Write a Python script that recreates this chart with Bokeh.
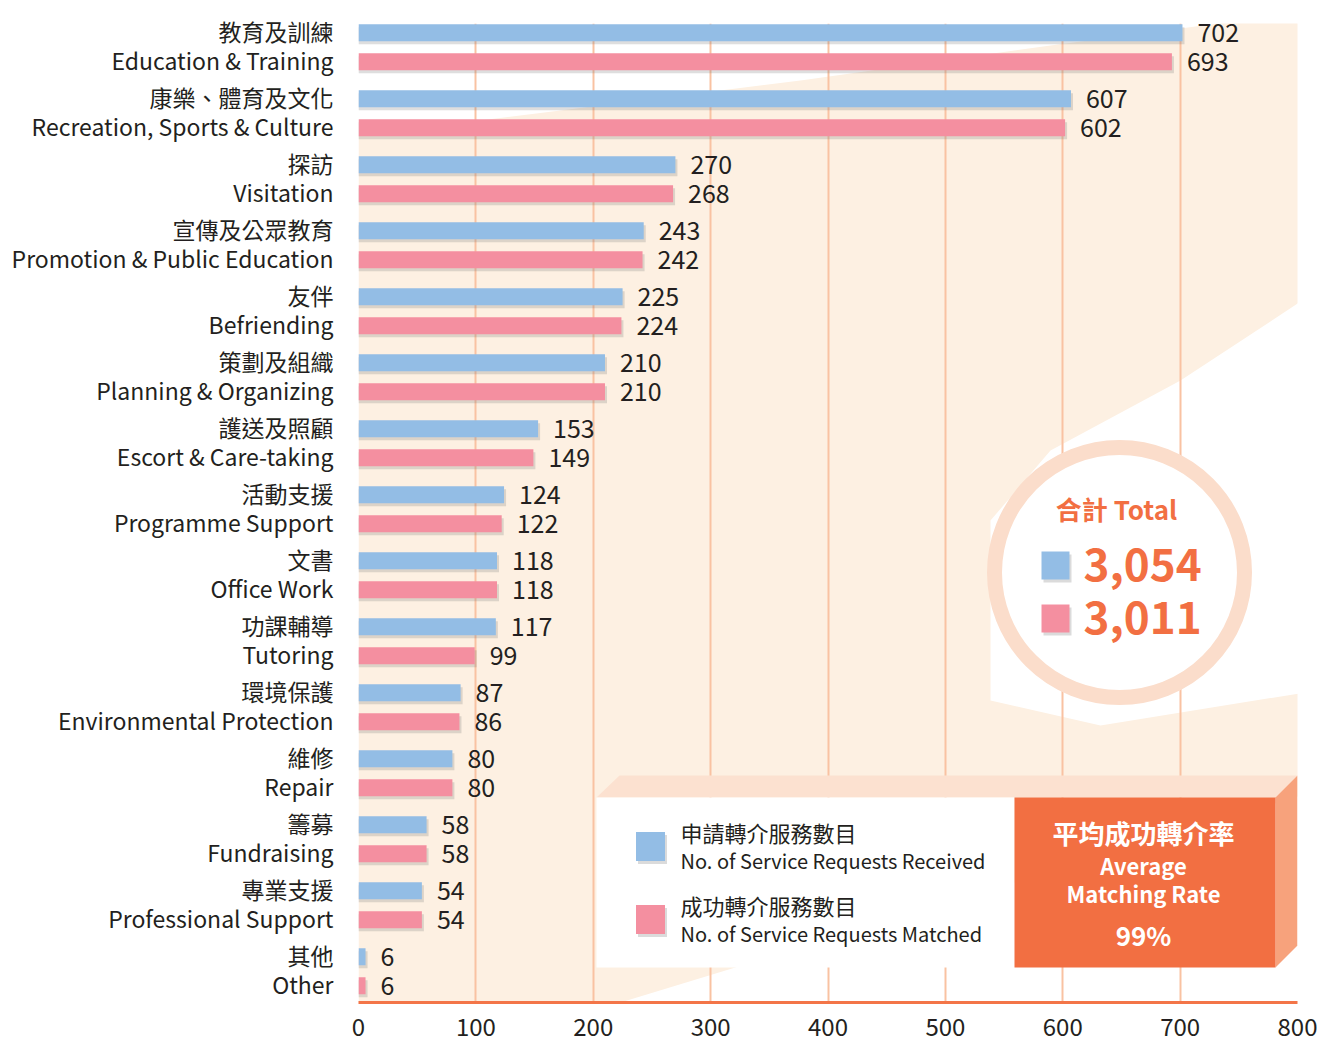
from bokeh.plotting import figure
from bokeh.models import Range1d, FixedTicker, ColumnDataSource
from bokeh.core.properties import value
from bokeh.embed import file_html
from bokeh.resources import INLINE

# ---------------- data ----------------
cats_zh = ["教育及訓練", "康樂、體育及文化", "探訪", "宣傳及公眾教育", "友伴", "策劃及組織",
           "護送及照顧", "活動支援", "文書", "功課輔導", "環境保護", "維修", "籌募", "專業支援", "其他"]
cats_en = ["Education & Training", "Recreation, Sports & Culture", "Visitation",
           "Promotion & Public Education", "Befriending", "Planning & Organizing",
           "Escort & Care-taking", "Programme Support", "Office Work", "Tutoring",
           "Environmental Protection", "Repair", "Fundraising", "Professional Support", "Other"]
received = [702, 607, 270, 243, 225, 210, 153, 124, 118, 117, 87, 80, 58, 54, 6]
matched = [693, 602, 268, 242, 224, 210, 149, 122, 118, 99, 86, 80, 58, 54, 6]
x_ticks = [0, 100, 200, 300, 400, 500, 600, 700, 800]
grid_ticks = [100, 200, 300, 400, 500, 600, 700]
total_label = "合計 Total"
total_received = "3,054"
total_matched = "3,011"
legend_received = ("申請轉介服務數目", "No. of Service Requests Received")
legend_matched = ("成功轉介服務數目", "No. of Service Requests Matched")
rate_lines = ["平均成功轉介率", "Average", "Matching Rate", "99%"]

# ---------------- style ----------------
FONT = value("Noto Sans CJK TC")
BLUE = "#93BDE5"
PINK = "#F48FA0"
ORANGE = "#F26F42"
DARK = "#231F20"
CREAM = "#FDF0E2"

W, H = 1317, 1044
FRAME_L, FRAME_R = 358, 1297
FRAME_T, FRAME_B = 23, 1002
PXX = (FRAME_R - FRAME_L) / 800.0     # px per x unit
PXY = 66.0                            # px per category
Y0 = 46.8                             # pixel centre of first category
Y_TOP = -(Y0 - FRAME_T) / PXY
Y_BOT = (FRAME_B - Y0) / PXY


def dx(sx):   # page pixel -> data x
    return (sx - FRAME_L) / PXX


def dy(sy):   # page pixel -> data y
    return (sy - Y0) / PXY


p = figure(width=W, height=H, output_backend="svg", toolbar_location=None,
           x_range=Range1d(0, 800), y_range=Range1d(Y_BOT, Y_TOP),
           min_border_left=FRAME_L, min_border_right=W - FRAME_R,
           min_border_top=FRAME_T, min_border_bottom=H - FRAME_B,
           background_fill_color="white", border_fill_color="white",
           outline_line_color=None)

# background brush region (decoration)
bg_pts = [(358, 135), (560, 110), (800, 80), (1050, 45), (1317, 10), (1317, 290),
          (1180, 380), (1050, 450), (990, 520), (990, 700), (1100, 725), (1317, 690),
          (1317, 790), (620, 1002), (358, 1002)]
p.patch([dx(a) for a, b in bg_pts], [dy(b) for a, b in bg_pts],
        fill_color=CREAM, line_color=None, level="image")

# grid & axes
p.ygrid.visible = False
p.xgrid.ticker = FixedTicker(ticks=grid_ticks)
p.xgrid.grid_line_color = "#F9C2A2"
p.xgrid.grid_line_width = 2

p.xaxis.ticker = FixedTicker(ticks=x_ticks)
p.xaxis.axis_line_color = "#F37548"
p.xaxis.axis_line_width = 3
p.xaxis.major_tick_line_color = None
p.xaxis.minor_tick_line_color = None
p.xaxis.major_tick_out = 0
p.xaxis.major_tick_in = 0
p.xaxis.minor_tick_out = 0
p.xaxis.major_label_standoff = 15
p.xaxis.major_label_text_font = "Noto Sans CJK TC"
p.xaxis.major_label_text_font_size = "24px"
p.xaxis.major_label_text_color = DARK

n = len(cats_zh)
yticks, overrides = [], {}
for i in range(n):
    a, b = i - 8 / 32, i + 6 / 32
    yticks += [a, b]
    overrides[a] = cats_zh[i]
    overrides[b] = cats_en[i]
p.yaxis.ticker = FixedTicker(ticks=yticks)
p.yaxis.major_label_overrides = overrides
p.yaxis.axis_line_color = None
p.yaxis.major_tick_line_color = None
p.yaxis.minor_tick_line_color = None
p.yaxis.major_tick_out = 0
p.yaxis.major_tick_in = 0
p.yaxis.minor_tick_out = 0
p.yaxis.major_label_standoff = 25
p.yaxis.major_label_text_font = "Noto Sans CJK TC"
p.yaxis.major_label_text_font_size = "23px"
p.yaxis.major_label_text_color = DARK

# bars
BOFF = 14.5 / PXY
BH = 17 / PXY
idx = list(range(n))
src = ColumnDataSource(dict(
    yb=[i - BOFF for i in idx], yp=[i + BOFF for i in idx],
    rec=received, mat=matched,
    rec_t=[str(v) for v in received], mat_t=[str(v) for v in matched],
))
sh_src = ColumnDataSource(dict(
    yb=[i - BOFF + 3 / PXY for i in idx], yp=[i + BOFF + 3 / PXY for i in idx],
    rec=[v + 2 / PXX for v in received], mat=[v + 2 / PXX for v in matched],
))
p.hbar(y="yb", height=BH, left=0, right="rec", source=sh_src,
       fill_color="#7a7a7a", fill_alpha=0.25, line_color=None)
p.hbar(y="yp", height=BH, left=0, right="mat", source=sh_src,
       fill_color="#7a7a7a", fill_alpha=0.25, line_color=None)
p.hbar(y="yb", height=BH, left=0, right="rec", source=src,
       fill_color=BLUE, line_color=None)
p.hbar(y="yp", height=BH, left=0, right="mat", source=src,
       fill_color=PINK, line_color=None)

p.text(x="rec", y="yb", text="rec_t", source=src, x_offset=15,
       text_baseline="middle", text_align="left", text_font=FONT,
       text_font_size="25px", text_color=DARK)
p.text(x="mat", y="yp", text="mat_t", source=src, x_offset=15,
       text_baseline="middle", text_align="left", text_font=FONT,
       text_font_size="25px", text_color=DARK)

# ---------------- total circle ----------------
p.scatter(x=[dx(1119)], y=[dy(572)], marker="circle", size=250,
          fill_color="white", line_color="#FBDDCB", line_width=15)
p.text(x=[dx(1116)], y=[dy(508)], text=[total_label], text_align="center",
       text_baseline="middle", text_font=FONT, text_font_style="bold",
       text_font_size="26px", text_color=ORANGE)
for sy, col, txt in [(565, BLUE, total_received), (618, PINK, total_matched)]:
    p.scatter(x=[dx(1057)], y=[dy(sy + 3)], marker="square", size=28,
              fill_color="#888888", fill_alpha=0.3, line_color=None)
    p.scatter(x=[dx(1055)], y=[dy(sy)], marker="square", size=28,
              fill_color=col, line_color=None)
    p.text(x=[dx(1083)], y=[dy(sy - 1)], text=[txt], text_align="left",
           text_baseline="middle", text_font=FONT, text_font_style="bold",
           text_font_size="44px", text_color=ORANGE)

# ---------------- legend box ----------------
top_face = [(596, 797), (619, 775), (1297, 775), (1275, 797)]
p.patch([dx(a) for a, b in top_face], [dy(b) for a, b in top_face],
        fill_color="#FCE1D0", line_color=None)
side_face = [(1275, 797), (1297, 775), (1297, 945), (1275, 967)]
p.patch([dx(a) for a, b in side_face], [dy(b) for a, b in side_face],
        fill_color="#F7A27C", line_color=None)
p.quad(left=[dx(596)], right=[dx(1014)], top=[dy(797)], bottom=[dy(967)],
       fill_color="white", line_color=None)
p.quad(left=[dx(1014)], right=[dx(1275)], top=[dy(797)], bottom=[dy(967)],
       fill_color=ORANGE, line_color=None)

for sy, col, (zh, en) in [(846, BLUE, legend_received), (919, PINK, legend_matched)]:
    p.scatter(x=[dx(652)], y=[dy(sy + 3)], marker="square", size=29,
              fill_color="#888888", fill_alpha=0.3, line_color=None)
    p.scatter(x=[dx(650)], y=[dy(sy)], marker="square", size=29,
              fill_color=col, line_color=None)
    p.text(x=[dx(680)], y=[dy(sy - 15)], text=[zh], text_align="left",
           text_baseline="middle", text_font=FONT, text_font_size="22px",
           text_color=DARK)
    p.text(x=[dx(680)], y=[dy(sy + 14)], text=[en], text_align="left",
           text_baseline="middle", text_font=FONT, text_font_size="20px",
           text_color=DARK)

for sy, txt, fs in zip([832, 864, 892, 934], rate_lines, ["26px", "22px", "22px", "26px"]):
    p.text(x=[dx(1143)], y=[dy(sy)], text=[txt], text_align="center",
           text_baseline="middle", text_font=FONT, text_font_style="bold",
           text_font_size=fs, text_color="white")

open("out.html", "w").write(file_html(p, INLINE))
